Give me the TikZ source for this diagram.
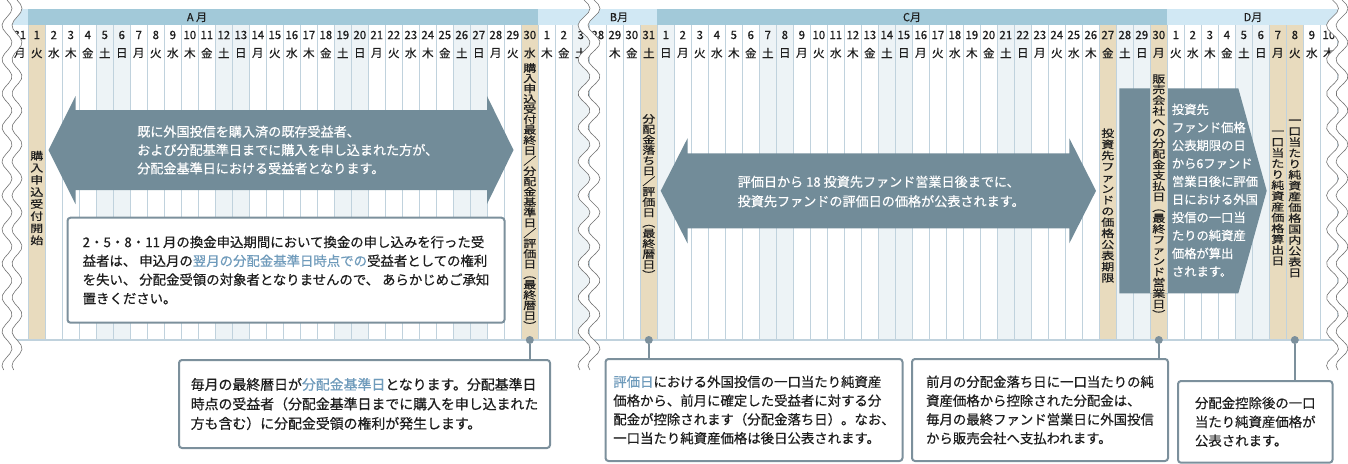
\documentclass[tikz,border=0pt]{standalone}
\usepackage{fontspec}
\setmainfont{Noto Sans CJK JP}[RawFeature={embolden=0.5}]

\definecolor{hdrdark}{HTML}{A2C9D9}
\definecolor{hdrlight}{HTML}{D1E8F4}
\definecolor{weekend}{HTML}{EDF3F6}
\definecolor{markday}{HTML}{E8DBBE}
\definecolor{sepline}{HTML}{C0D2DD}
\definecolor{slate}{HTML}{728C99}
\definecolor{frame}{HTML}{7C909C}
\definecolor{accent}{HTML}{6F9BBB}
\definecolor{ink}{HTML}{1E1E1E}

% weekday name from 0 (Sun) to 6 (Sat)
\newcommand\youbi[1]{\ifcase#1 日\or 月\or 火\or 水\or 木\or 金\or 土\fi}
% vertical text, one character per line
\newcommand\tate[2][12pt]{\vbox{\baselineskip=#1\lineskip=0pt\lineskiplimit=-100pt\tateloop#2\relax}}
\def\tateloop#1{\ifx\relax#1\else\hbox to 14pt{\hss#1\hss}\expandafter\tateloop\fi}

\begin{document}
\begin{tikzpicture}[x=1pt,y=-1pt,
    daynum/.style={inner sep=0pt,text=ink,font=\fontsize{11.5}{11.5}\selectfont},
    monthlbl/.style={inner sep=0pt,text=ink,font=\fontsize{11}{11}\selectfont},
    tatetext/.style={inner sep=0pt,text=ink,yscale=.8,font=\fontsize{13}{13}\selectfont},
    arrowtext/.style={inner sep=0pt,anchor=west,align=left,text=white,font=\fontsize{13.1}{18.4}\selectfont},
    notebox/.style={draw=frame,line width=2pt,rounded corners=3pt,fill=white,anchor=north west,
        align=left,text=ink,inner sep=0pt,font=\fontsize{13.4}{18.8}\selectfont},
    dot/.style={circle,fill=frame,inner sep=0pt,minimum size=8pt},
    link/.style={draw=frame,line width=2pt},
    sep/.style={draw=sepline,line width=1.4pt},
    breakline/.style={draw=black!55,line width=.6pt}]
    \useasboundingbox (0,0) rectangle (1348,463);

    % month bars
    \fill[hdrlight] (11.3,9.3) rectangle (28.3,25);
    \fill[hdrdark] (28.3,9.3) rectangle (538.3,25);
    \fill[hdrlight] (538.3,9.3) rectangle (657.3,25);
    \fill[hdrdark] (657.3,9.3) rectangle (1167.3,25);
    \fill[hdrlight] (1167.3,9.3) rectangle (1345,25);
    \node[monthlbl] (monA) at (197,17.3) {A 月};
    \node[monthlbl] (monB) at (619,17.3) {B月};
    \node[monthlbl] (monC) at (912,17.3) {C月};
    \node[monthlbl] (monD) at (1253,17.3) {D月};

    % day columns
    \foreach \ci in {0,...,77}{
        \pgfmathtruncatemacro\yb{mod(\ci+1+3*(\ci>33),7)}
        \ifnum\yb=0 \fill[weekend] (11.3+17*\ci,25) rectangle ++(17,315);\fi
        \ifnum\yb=6 \fill[weekend] (11.3+17*\ci,25) rectangle ++(17,315);\fi
    }
    \foreach \ci in {1,30,37,64,67,74,75}
        \fill[markday] (11.3+17*\ci,25) rectangle ++(17,315);
    \foreach \ci in {0,...,78}
        \draw[sep] (11.3+17*\ci,25) -- ++(0,315);
    \draw[sep] (11.3,340) -- (1337.3,340);
    \foreach \dd [count=\ci from 0] in {31,1,2,...,30,1,2,3,28,29,30,31,1,2,...,30,1,2,...,10}{
        \pgfmathtruncatemacro\yb{mod(\ci+1+3*(\ci>33),7)}
        \node[daynum] (day\ci) at (19.8+17*\ci,35) {\dd};
        \ifnum\ci=34 \else\node[daynum] (yb\ci) at (19.8+17*\ci,53) {\youbi{\yb}};\fi
    }

    % holders arrow
    \fill[slate] (48.5,150) -- (75.5,96) -- (75.5,110) -- (487,110) -- (487,96) -- (513.5,150)
        -- (487,204) -- (487,190) -- (75.5,190) -- (75.5,204) -- cycle;
    \node[arrowtext] (msgHolder) at (137,150) {既に外国投信を購入済の既存受益者、\\および分配基準日までに購入を申し込まれた方が、\\分配金基準日における受益者となります。};

    % price arrow
    \fill[slate] (660.7,190.8) -- (687.5,138.3) -- (687.5,153.3) -- (1069.3,153.3) -- (1069.3,138.3) -- (1096,190.8)
        -- (1069.3,243.3) -- (1069.3,228.3) -- (687.5,228.3) -- (687.5,243.3) -- cycle;
    \node[arrowtext,font=\fontsize{13.1}{19.5}\selectfont] (msgPrice) at (737.5,191.5) {評価日から 18 投資先ファンド営業日後までに、\\投資先ファンドの評価日の価格が公表されます。};

    % nav block
    \fill[slate] (1119.3,88.3) -- (1238.3,88.3) -- (1266.7,190.8) -- (1238.3,293.3) -- (1119.3,293.3) -- cycle;
    \fill[markday] (1150.3,88.3) rectangle (1167.3,293.3);
    \draw[sep] (1150.3,88.3) -- (1150.3,293.3);
    \draw[sep] (1167.3,88.3) -- (1167.3,293.3);
    \node[arrowtext,font=\fontsize{12.3}{18}\selectfont] (msgNav) at (1171.7,190.3) {投資先\\ファンド価格\\公表期限の日\\から6ファンド\\営業日後に評価\\日における外国\\投信の一口当\\たりの純資産\\価格が算出\\されます。};

    % vertical labels
    \node[tatetext] (tStart) at (36.8,198) {\tate[15.1pt]{購入申込受付開始}};
    \node[tatetext] (tKijun) at (529.8,196.5) {\tate[12.9pt]{購入申込受付最終日／分配金基準日／評価日︵最終暦日︶}};
    \node[tatetext] (tOchi) at (648.8,196.5) {\tate[13pt]{分配金落ち日／評価日︵最終暦日︶}};
    \node[tatetext] (tKigen) at (1107.8,205.5) {\tate[13.9pt]{投資先ファンドの価格公表期限}};
    \node[tatetext] (tShiharai) at (1158.8,196.5) {\tate[13.4pt]{販売会社への分配金支払日︵最終ファンド営業日︶}};
    \node[tatetext] (tSanshutsu) at (1277.8,198) {\tate[13.5pt]{一口当たり純資産価格算出日}};
    \node[tatetext] (tKouhyou) at (1294.8,198.5) {\tate[13.6pt]{一口当たり純資産価格国内公表日}};

    % notes
    \node[notebox,minimum width=437pt,minimum height=105pt] (noteRefund) at (66.5,216.7)
        {2・5・8・11 月の換金申込期間において換金の申し込みを行った受\\益者は、 申込月の\textcolor{accent}{翌月の分配金基準日時点での}受益者としての権利\\を失い、 分配金受領の対象者となりませんので、 あらかじめご承知\\置きください。};
    \node[notebox,minimum width=371pt,minimum height=88pt,font=\fontsize{13.9}{19.5}\selectfont] (noteKijun) at (178,359)
        {毎月の最終暦日が\textcolor{accent}{分配金基準日}となります。分配基準日\\時点の受益者（分配金基準日までに購入を申し込まれた\\方も含む）に分配金受領の権利が発生します。};
    \node[notebox,minimum width=297pt,minimum height=102pt] (noteHyouka) at (604.5,358)
        {\textcolor{accent}{評価日}における外国投信の一口当たり純資産\\価格から、前月に確定した受益者に対する分\\配金が控除されます（分配金落ち日）。なお、\\一口当たり純資産価格は後日公表されます。};
    \node[notebox,minimum width=256pt,minimum height=102pt] (noteShiharai) at (911,358)
        {前月の分配金落ち日に一口当たりの純\\資産価格から控除された分配金は、\\毎月の最終ファンド営業日に外国投信\\から販売会社へ支払われます。};
    \node[notebox,minimum width=154.5pt,minimum height=81.7pt] (noteKouhyou) at (1177,380)
        {分配金控除後の一口\\当たり純資産価格が\\公表されます。};

    \node[dot] (dotA30) at (529.8,340) {};
    \node[dot] (dotB31) at (648.8,340) {};
    \node[dot] (dotC30) at (1158.8,340) {};
    \node[dot] (dotD8) at (1294.8,340) {};
    \draw[link] (dotA30) -- (dotA30 |- noteKijun.north);
    \draw[link] (dotB31) -- (dotB31 |- noteHyouka.north);
    \draw[link] (dotC30) -- (dotC30 |- noteShiharai.north);
    \draw[link] (dotD8) -- (dotD8 |- noteKouhyou.north);

    % breaks
    \fill[white] (0,0) -- plot[domain=0:370,samples=90] ({17+5*sin(\x*10.588)},\x) -- (0,370) -- cycle;
    \draw[breakline] plot[domain=0:370,samples=90] ({7+5*sin(\x*10.588)},\x);
    \draw[breakline] plot[domain=0:370,samples=90] ({17+5*sin(\x*10.588)},\x);
    \fill[white] plot[domain=0:370,samples=90] ({584+6*sin(\x*10.588)},\x)
        -- plot[domain=370:0,samples=90] ({594+6*sin(\x*10.588)},\x) -- cycle;
    \draw[breakline] plot[domain=0:370,samples=90] ({584+6*sin(\x*10.588)},\x);
    \draw[breakline] plot[domain=0:370,samples=90] ({594+6*sin(\x*10.588)},\x);
    \fill[white] plot[domain=0:370,samples=90] ({1332.5+6*sin(\x*10.588)},\x) -- (1348,370) -- (1348,0) -- cycle;
    \draw[breakline] plot[domain=0:370,samples=90] ({1332.5+6*sin(\x*10.588)},\x);
    \draw[breakline] plot[domain=0:370,samples=90] ({1342+6*sin(\x*10.588)},\x);
\end{tikzpicture}
\end{document}
